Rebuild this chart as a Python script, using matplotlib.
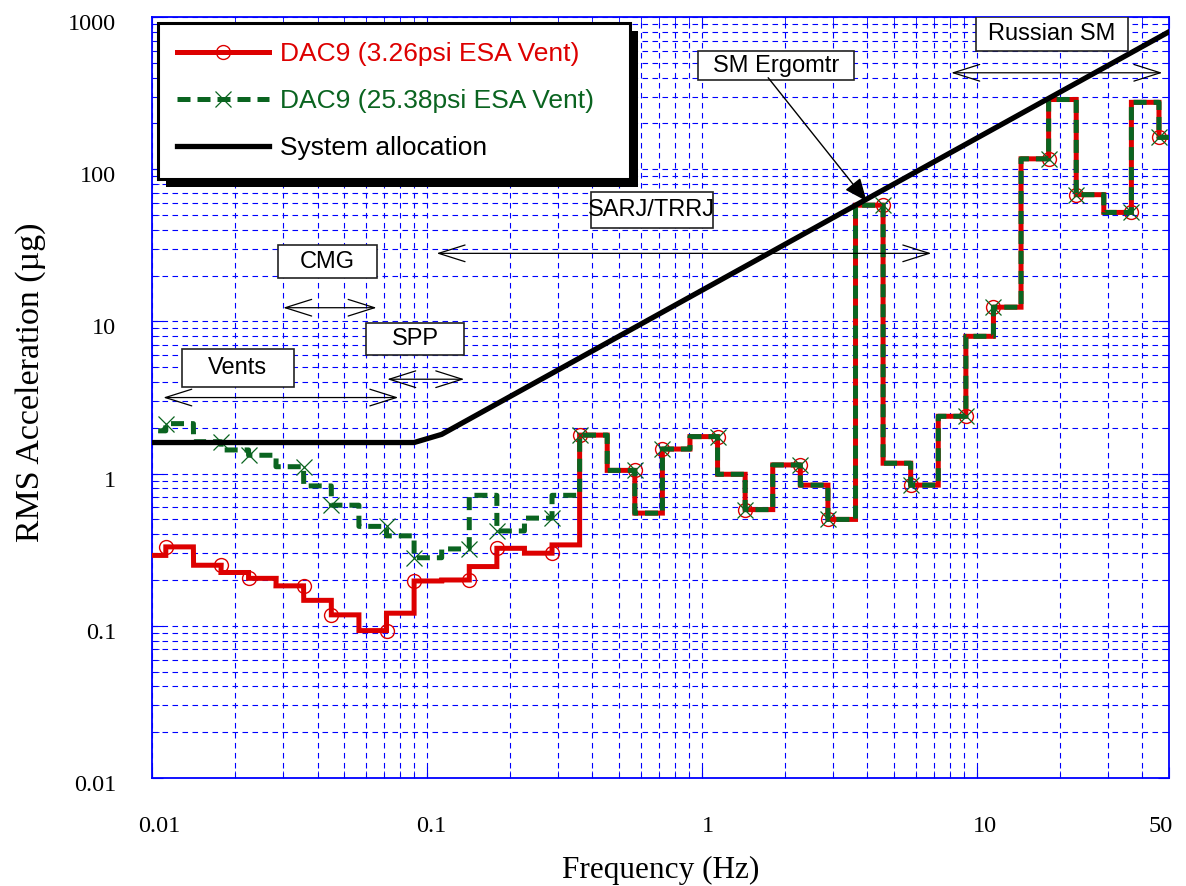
import numpy as np
import matplotlib
matplotlib.use("Agg")
import matplotlib.pyplot as plt
import matplotlib.transforms as mtransforms
from matplotlib.ticker import FixedLocator, LogLocator, NullFormatter
from matplotlib.lines import Line2D
from matplotlib.patches import Rectangle

# one-third octave band centres (Hz)
band_hz = [0.0100, 0.0126, 0.0159, 0.0200, 0.0252, 0.0317, 0.0400, 0.0504,
           0.0635, 0.0800, 0.1008, 0.1270, 0.1600, 0.2016, 0.2540, 0.3200,
           0.4032, 0.5080, 0.6400, 0.8063, 1.0159, 1.2800, 1.6127, 2.0319,
           2.5600, 3.2254, 4.0637, 5.1200, 6.4508, 8.1275, 10.240, 12.902,
           16.255, 20.480, 25.803, 32.510, 40.960, 51.606]

# RMS acceleration per band (micro-g)
dac9_low = [0.29, 0.33, 0.25, 0.224, 0.205, 0.183, 0.147, 0.118,
            0.093, 0.121, 0.197, 0.20, 0.245, 0.323, 0.30, 0.34,
            1.79, 1.05, 0.55, 1.45, 1.75, 0.99, 0.58, 1.14,
            0.84, 0.50, 58.0, 1.17, 0.84, 2.38, 7.98, 12.4,
            117.0, 287.0, 68.0, 52.0, 275.0, 162.0]
dac9_high = [1.91, 2.13, 1.62, 1.43, 1.32, 1.11, 0.83, 0.62,
             0.45, 0.39, 0.28, 0.32, 0.72, 0.42, 0.51, 0.72,
             1.79, 1.05, 0.55, 1.45, 1.75, 0.99, 0.58, 1.14,
             0.84, 0.50, 58.0, 1.17, 0.84, 2.38, 7.98, 12.4,
             117.0, 287.0, 68.0, 52.0, 275.0, 162.0]

alloc_hz = [0.01, 0.0898, 0.1131, 50.0]
alloc_ug = [1.6, 1.6, 1.81, 800.0]

labels = ["DAC9 (3.26psi ESA Vent)", "DAC9 (25.38psi ESA Vent)", "System allocation"]

xticks = [0.01, 0.1, 1, 10, 50]
xtick_labels = ["0.01", "0.1", "1", "10", "50"]
yticks = [0.01, 0.1, 1, 10, 100, 1000]
ytick_labels = ["0.01", "0.1", "1", "10", "100", "1000"]

# disturbance source notes
box_labels = ["Vents", "CMG", "SPP", "SARJ/TRRJ", "SM Ergomtr", "Russian SM"]
box_hz = [(0.01282, 0.03283), (0.02865, 0.06563), (0.05985, 0.1367),
          (0.3938, 1.099), (0.969, 3.571), (9.92, 35.5)]
box_ug = [(3.71, 6.56), (19.3, 31.6), (5.99, 9.72), (41.0, 70.8),
          (383.0, 596.0), (596.0, 1000.0)]
span_hz = [(0.01099, 0.0787), (0.0300, 0.0656), (0.0717, 0.1367),
           (0.1084, 6.83), (8.07, 47.3)]
span_ug = [3.16, 12.3, 4.17, 28.0, 430.0]

RED = "#dd0000"
GREEN = "#0a6420"
BLUE = "#0000ff"
SERIF = "Liberation Serif"
SANS = "Liberation Sans"


def steps(vals):
    xs, ys = [], []
    for c, v in zip(band_hz, vals):
        xs += [c * 2 ** (-1 / 6), c * 2 ** (1 / 6)]
        ys += [v, v]
    return xs, ys


fig = plt.figure(figsize=(11.86, 8.86), dpi=100)
ax = fig.add_axes([152 / 1186, 108 / 886, 1017 / 1186, 761 / 886])
ax.set_xscale("log")
ax.set_yscale("log")
ax.set_xlim(0.01, 50)
ax.set_ylim(0.01, 1000)

dash = (0, (2.6, 1.4))
xr, yr = steps(dac9_low)
ax.plot(xr, yr, color=RED, lw=3.6, solid_joinstyle="miter", marker="o", ms=10,
        mfc="none", mec=RED, mew=1, markevery=(2, 3), zorder=3)
xg, yg = steps(dac9_high)
ax.plot(xg, yg, color=GREEN, lw=3.6, ls=dash, marker="x", ms=11.5,
        mec=GREEN, mew=0.9, markevery=(2, 3), zorder=4)
ax.plot(alloc_hz, alloc_ug, color="k", lw=3.8, zorder=5)

# axes styling
for s in ax.spines.values():
    s.set_color(BLUE)
    s.set_linewidth(1.3)
ax.xaxis.set_major_locator(FixedLocator(xticks))
ax.set_xticklabels(xtick_labels)
ax.yaxis.set_major_locator(FixedLocator(yticks))
ax.set_yticklabels(ytick_labels)
for a in (ax.xaxis, ax.yaxis):
    a.set_minor_locator(LogLocator(base=10, subs=np.arange(2, 10), numticks=100))
    a.set_minor_formatter(NullFormatter())
ax.tick_params(which="both", direction="in", color=BLUE, top=True, right=True)
ax.tick_params(which="major", length=8)
ax.tick_params(which="minor", length=5)
ax.tick_params(axis="x", pad=27)
ax.tick_params(axis="y", pad=26)
for t in ax.get_xticklabels() + ax.get_yticklabels():
    t.set_fontfamily(SERIF)
    t.set_fontsize(17.5)
# nudge tick labels the way the original sits
for t in ax.get_yticklabels():
    t.set_transform(t.get_transform() + mtransforms.ScaledTranslation(0, -5 / 100, fig.dpi_scale_trans))
for t, off in zip(ax.get_xticklabels(), [7, 4, 6, 8, -8]):
    t.set_transform(t.get_transform() + mtransforms.ScaledTranslation(off / 100, 0, fig.dpi_scale_trans))
ax.grid(True, which="both", color=BLUE, lw=0.8, ls=(0, (5, 4)))
ax.set_axisbelow(True)

ax.set_xlabel("Frequency (Hz)", family=SERIF, fontsize=22.5, labelpad=14)
ax.set_ylabel("RMS Acceleration (\u00b5g)", family=SERIF, fontsize=24.5, labelpad=15)
ax.yaxis.set_label_coords(-0.104, 0.52)

# notes
for lab, (x0, x1), (y0, y1) in zip(box_labels, box_hz, box_ug):
    ax.add_patch(Rectangle((x0, y0), x1 - x0, y1 - y0, fc="white", ec="#222222",
                           lw=1.2, zorder=6))
    ax.text(np.sqrt(x0 * x1), np.sqrt(y0 * y1), lab, ha="center", va="center",
            family=SANS, fontsize=17, zorder=7)
for (x0, x1), y in zip(span_hz, span_ug):
    ax.annotate("", xy=(x1, y), xytext=(x0, y), zorder=7,
                arrowprops=dict(arrowstyle="<->,head_length=0.95,head_width=0.3",
                                lw=0.9, color="k", shrinkA=0, shrinkB=0,
                                mutation_scale=20))
ax.annotate("", xy=(3.97, 61.7), xytext=(1.742, 399), zorder=7,
            arrowprops=dict(arrowstyle="-|>,head_length=0.7,head_width=0.3",
                            lw=1, color="k", shrinkA=0, shrinkB=0,
                            mutation_scale=20))

# legend with drop shadow
handles = [
    Line2D([], [], color=RED, lw=3.6, marker="o", ms=10, mfc="none", mec=RED, mew=1),
    Line2D([], [], color=GREEN, lw=3.6, ls=dash, marker="x", ms=11.5, mec=GREEN, mew=0.9),
    Line2D([], [], color="k", lw=3.8),
]
leg = ax.legend(handles, labels, loc="upper left",
                bbox_to_anchor=(6 / 1017, 0.5, 472 / 1017, 0.5 - 6 / 761),
                mode="expand", borderaxespad=0, fancybox=False, framealpha=1,
                edgecolor="k", prop={"family": SANS, "size": 19},
                handlelength=3.5, handletextpad=0.4, labelspacing=0.88,
                borderpad=0.72, labelcolor="linecolor")
leg.get_frame().set_linewidth(2.2)
leg.set_zorder(10)

fig.canvas.draw()
bb = leg.get_window_extent()
(lx0, ly0), (lx1, ly1) = ax.transAxes.inverted().transform([[bb.x0, bb.y0], [bb.x1, bb.y1]])
dx = 8 / ax.bbox.width
dy = 8 / ax.bbox.height
ax.add_patch(Rectangle((lx0 + dx, ly0 - dy), lx1 - lx0, ly1 - ly0, transform=ax.transAxes,
                       fc="k", ec="none", zorder=9, clip_on=False))

fig.savefig("out.png", dpi=100)
